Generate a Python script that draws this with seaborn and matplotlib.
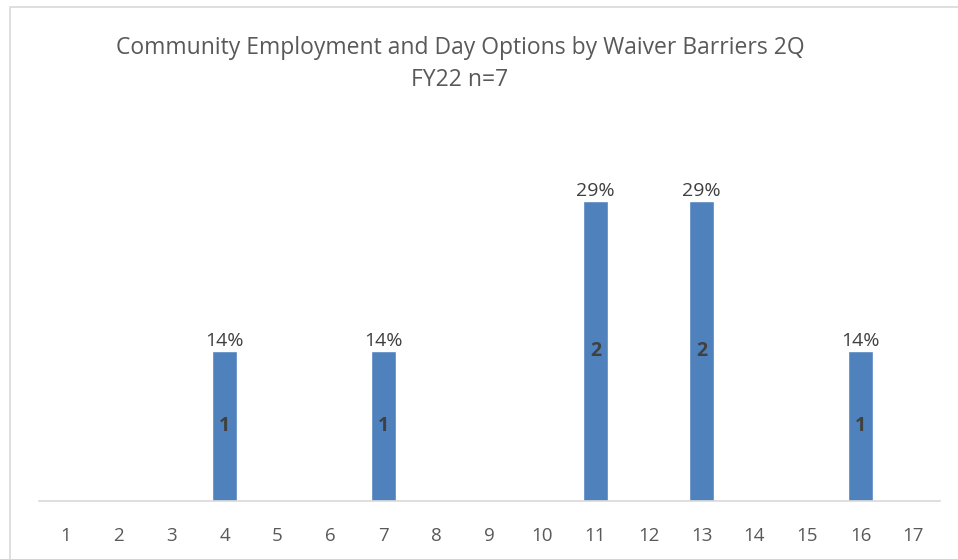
import matplotlib
matplotlib.use("Agg")
import matplotlib.pyplot as plt
import matplotlib.patches as mpatches
import seaborn as sns
import pandas as pd

# data
categories = [str(i) for i in range(1, 18)]
counts = [0, 0, 0, 1, 0, 0, 1, 0, 0, 0, 2, 0, 2, 0, 0, 1, 0]
n_total = 7
title_text = "Community Employment and Day Options by Waiver Barriers 2Q\nFY22 n=7"

df = pd.DataFrame({"barrier": categories, "count": counts})

sns.set_theme(style="white")
plt.rcParams['font.family'] = ['Open Sans', 'DejaVu Sans']

W, H = 958, 559
fig = plt.figure(figsize=(W / 100, H / 100), dpi=100)
ax = fig.add_axes([39 / W, (H - 501) / H, (940 - 39) / W, (501 - 126) / H])

sns.barplot(data=df, x="barrier", y="count", color="#4F81BD", width=0.47,
            saturation=1, ax=ax)

ax.set_ylim(0, 2.5)
ax.set_xlim(-0.5, len(categories) - 0.5)
ax.set_xlabel("")
ax.set_ylabel("")
ax.set_yticks([])
for s in ["top", "right", "left"]:
    ax.spines[s].set_visible(False)
ax.spines["bottom"].set_color("#d9d9d9")
ax.spines["bottom"].set_linewidth(1.2)
ax.tick_params(axis="x", length=0, pad=19, labelsize=13.5, labelcolor="#595959")

# labels: percent above, count inside
for i, c in enumerate(counts):
    if c > 0:
        pct = round(c / n_total * 100)
        ax.text(i, c + 0.01, f"{pct}%", ha="center", va="bottom",
                fontsize=14, color="#404040")
        ax.text(i, c / 2, str(c), ha="center", va="center",
                fontsize=14, fontweight="bold", color="#404040")

fig.text(460 / W, 1 - 64 / H, title_text, ha="center", va="center",
         fontsize=16.5, color="#595959", linespacing=1.45)

# outer chart border
fig.patches.append(mpatches.Rectangle((10 / W, -0.1), 1.1, 1 - 7 / H + 0.1,
                                      transform=fig.transFigure, fill=False,
                                      edgecolor="#d9d9d9", linewidth=1.2))

fig.savefig("out.png", dpi=100, facecolor="white")
